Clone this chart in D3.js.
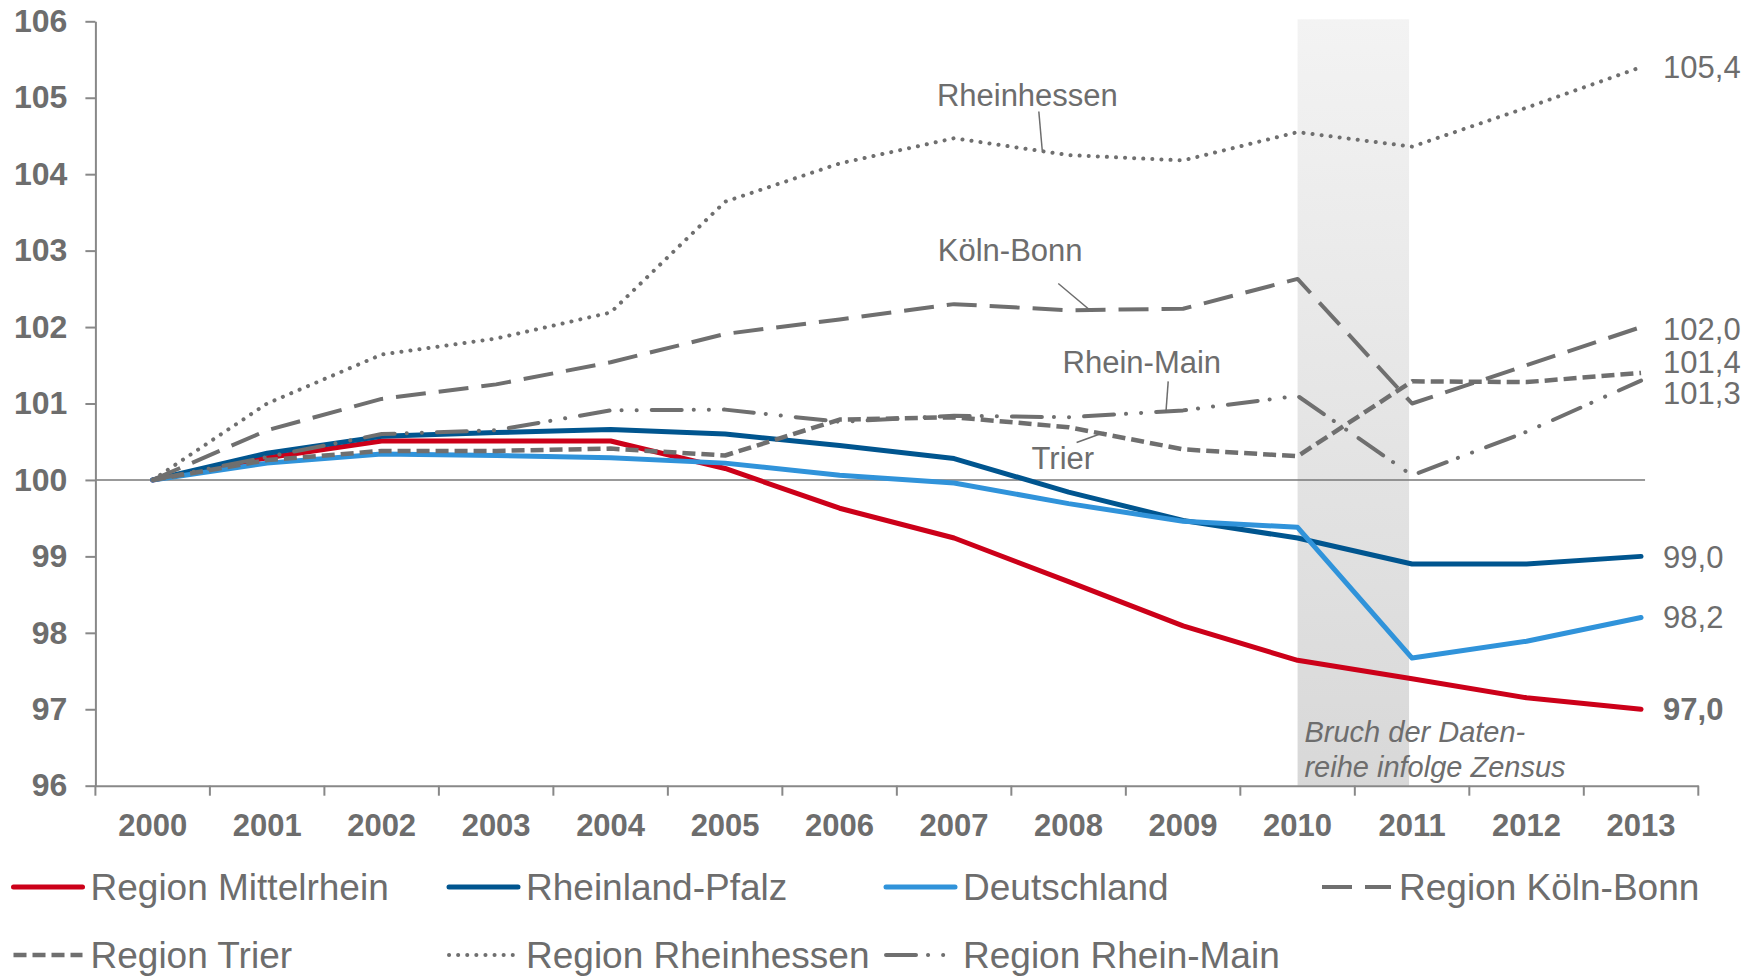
<!DOCTYPE html>
<html>
<head>
<meta charset="utf-8">
<script src="https://cdn.jsdelivr.net/npm/d3@7"></script>
<style>
  body { margin: 0; background: #fff; }
  text { font-family: "Liberation Sans", Arial, sans-serif; }
</style>
</head>
<body>
<svg id="chart" width="1760" height="979"></svg>
<script>
/* ---- data (index, 2000 = 100) ---- */
const years = [2000, 2001, 2002, 2003, 2004, 2005, 2006, 2007, 2008, 2009, 2010, 2011, 2012, 2013];
const yTicks = [96, 97, 98, 99, 100, 101, 102, 103, 104, 105, 106];

const mittelrhein   = [100, 100.29, 100.51, 100.51, 100.51, 100.15, 99.63, 99.24, 98.67, 98.09, 97.64, 97.40, 97.15, 97.0];
const rheinlandPfalz = [100, 100.35, 100.57, 100.62, 100.66, 100.60, 100.45, 100.28, 99.84, 99.47, 99.24, 98.90, 98.90, 99.0];
const deutschland   = [100, 100.22, 100.34, 100.32, 100.29, 100.22, 100.06, 99.96, 99.69, 99.46, 99.38, 97.67, 97.89, 98.2];
const koelnBonn     = [100, 100.65, 101.06, 101.25, 101.54, 101.91, 102.10, 102.30, 102.22, 102.24, 102.63, 101.00, 101.50, 102.0];
const trier         = [100, 100.26, 100.38, 100.38, 100.41, 100.32, 100.79, 100.82, 100.69, 100.40, 100.31, 101.29, 101.28, 101.4];
const rheinhessen   = [100, 101.00, 101.64, 101.85, 102.19, 103.64, 104.14, 104.47, 104.25, 104.18, 104.55, 104.36, 104.87, 105.4];
const rheinMain     = [100, 100.30, 100.60, 100.65, 100.91, 100.92, 100.76, 100.84, 100.82, 100.91, 101.10, 100.06, 100.63, 101.3];

const seriesNames = ["Region Mittelrhein", "Rheinland-Pfalz", "Deutschland", "Region Köln-Bonn",
                     "Region Trier", "Region Rheinhessen", "Region Rhein-Main"];
const seriesValues = [mittelrhein, rheinlandPfalz, deutschland, koelnBonn, trier, rheinhessen, rheinMain];
const endLabels = ["97,0", "99,0", "98,2", "102,0", "101,4", "105,4", "101,3"];

/* ---- styles ---- */
const grey = "#6f6f6f";
const styles = [
  { color: "#cc0019", width: 5, dash: null, cap: "round" },
  { color: "#00558f", width: 5, dash: null, cap: "round" },
  { color: "#3093da", width: 5, dash: null, cap: "round" },
  { color: grey, width: 4, dash: "30 13", cap: "butt" },
  { color: grey, width: 4.5, dash: "13 6", cap: "butt" },
  { color: grey, width: 4, dash: "0.1 9", cap: "round" },
  { color: grey, width: 4, dash: "30 12 0.1 15 0.1 15", cap: "round" }
];
// small vertical nudges (px) so the end labels do not overlap
const endLabelShift = [0, 1, 0, 2, -11, 0, 13];

const svg = d3.select("#chart");
const left = 95.4, right = 1698.3;

const x = d3.scaleBand().domain(years).range([left, right]).padding(0);
const cx = d => x(d) + x.bandwidth() / 2;
const xv = t => cx(2000) + (t - 2000) * x.step();   // fractional years for annotations
const y = d3.scaleLinear().domain([96, 106]).range([785.7, 21.3]);

/* Bruch der Datenreihe band */
const defs = svg.append("defs");
const grad = defs.append("linearGradient").attr("id", "bandGrad")
  .attr("x1", 0).attr("y1", 0).attr("x2", 0).attr("y2", 1);
grad.append("stop").attr("offset", "0%").attr("stop-color", "#f3f3f3");
grad.append("stop").attr("offset", "100%").attr("stop-color", "#d8d8d8");

svg.append("rect")
  .attr("x", cx(2010))
  .attr("y", y(106) - 2)
  .attr("width", cx(2011) - cx(2010) - 3)
  .attr("height", y(96) - y(106) + 2)
  .attr("fill", "url(#bandGrad)");

/* 100 line */
svg.append("line")
  .attr("x1", left).attr("x2", cx(2013) + 4)
  .attr("y1", y(100)).attr("y2", y(100))
  .attr("stroke", "#777").attr("stroke-width", 1.5);

/* y axis */
const yAxis = svg.append("g")
  .attr("transform", "translate(" + left + ",0)")
  .call(d3.axisLeft(y).tickValues(yTicks).tickSize(10).tickPadding(18).tickSizeOuter(0));
yAxis.select(".domain").attr("stroke", "#888").attr("stroke-width", 2);
yAxis.selectAll(".tick line").attr("stroke", "#888").attr("stroke-width", 2);
yAxis.selectAll(".tick text")
  .attr("fill", "#6d6d6d")
  .style("font-size", "32px")
  .style("font-weight", "bold");

/* x axis */
const xAxis = svg.append("g")
  .attr("transform", "translate(0," + y(96) + ")")
  .call(d3.axisBottom(x).tickSizeInner(0).tickSizeOuter(0).tickPadding(28));
xAxis.select(".domain").attr("stroke", "#888").attr("stroke-width", 2);
xAxis.selectAll(".tick text")
  .attr("fill", "#6d6d6d")
  .style("font-size", "31px")
  .style("font-weight", "bold");
xAxis.selectAll(".boundary")
  .data(d3.range(years.length + 1))
  .enter().append("line")
  .attr("class", "boundary")
  .attr("x1", i => left + i * x.step()).attr("x2", i => left + i * x.step())
  .attr("y1", 0).attr("y2", 10)
  .attr("stroke", "#888").attr("stroke-width", 2);

/* lines */
const line = d3.line()
  .x((d, i) => cx(years[i]))
  .y(d => y(d));

svg.selectAll(".series")
  .data(seriesValues)
  .enter().append("path")
  .attr("class", "series")
  .attr("d", line)
  .attr("fill", "none")
  .attr("stroke", (d, i) => styles[i].color)
  .attr("stroke-width", (d, i) => styles[i].width)
  .attr("stroke-dasharray", (d, i) => styles[i].dash)
  .attr("stroke-linecap", (d, i) => styles[i].cap)
  .attr("stroke-linejoin", "round");

/* end labels */
svg.selectAll(".endlabel")
  .data(seriesValues)
  .enter().append("text")
  .attr("class", "endlabel")
  .attr("x", cx(2013) + 22)
  .attr("y", (d, i) => y(d[d.length - 1]) + endLabelShift[i])
  .attr("dy", "0.35em")
  .attr("fill", "#6d6d6d")
  .style("font-size", "31px")
  .style("font-weight", (d, i) => i === 0 ? "bold" : "normal")
  .text((d, i) => endLabels[i]);

/* annotations (positions in year / index units) */
const annotations = [
  { text: "Rheinhessen", tx: 2007.64, ty: 105.04, l: [2007.74, 104.82, 2007.77, 104.31] },
  { text: "Köln-Bonn",   tx: 2007.49, ty: 103.0,  l: [2007.91, 102.57, 2008.18, 102.23] },
  { text: "Rhein-Main",  tx: 2008.64, ty: 101.54, l: [2008.87, 101.29, 2008.85, 100.88] },
  { text: "Trier",       tx: 2007.95, ty: 100.29, l: [2008.07, 100.49, 2008.31, 100.62] }
];
const ann = svg.selectAll(".ann").data(annotations).enter().append("g").attr("class", "ann");
ann.append("text")
  .attr("x", d => xv(d.tx)).attr("y", d => y(d.ty))
  .attr("dy", "0.35em")
  .attr("text-anchor", "middle")
  .attr("fill", "#6d6d6d")
  .style("font-size", "31px")
  .text(d => d.text);
ann.append("line")
  .attr("x1", d => xv(d.l[0])).attr("y1", d => y(d.l[1]))
  .attr("x2", d => xv(d.l[2])).attr("y2", d => y(d.l[3]))
  .attr("stroke", "#6d6d6d").attr("stroke-width", 1.5);

const bruch = svg.append("text")
  .attr("x", xv(2010.06))
  .attr("fill", "#6d6d6d")
  .style("font-size", "29px")
  .style("font-style", "italic");
bruch.append("tspan").attr("x", xv(2010.06)).attr("y", y(96.71)).attr("dy", "0.35em").text("Bruch der Daten-");
bruch.append("tspan").attr("x", xv(2010.06)).attr("y", y(96.25)).attr("dy", "0.35em").text("reihe infolge Zensus");

/* legend */
const legCols = [13.5, 449, 886, 1322];
const legRows = [887, 955];
const leg = svg.selectAll(".legend")
  .data(seriesNames)
  .enter().append("g")
  .attr("class", "legend")
  .attr("transform", (d, i) => {
    const col = i < 4 ? i : i - 4;
    const row = i < 4 ? 0 : 1;
    return "translate(" + legCols[col] + "," + legRows[row] + ")";
  });
leg.append("line")
  .attr("x1", 0).attr("x2", 69)
  .attr("y1", 0).attr("y2", 0)
  .attr("stroke", (d, i) => styles[i].color)
  .attr("stroke-width", (d, i) => styles[i].width)
  .attr("stroke-dasharray", (d, i) => styles[i].dash)
  .attr("stroke-linecap", (d, i) => styles[i].cap);
leg.append("text")
  .attr("x", 77)
  .attr("dy", "0.35em")
  .attr("fill", "#6d6d6d")
  .style("font-size", "37px")
  .text(d => d);
</script>
</body>
</html>
